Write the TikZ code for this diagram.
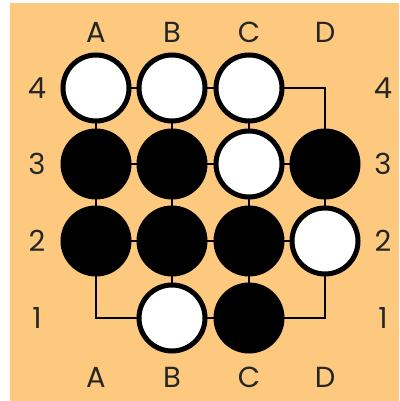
\documentclass[tikz,border=0pt]{standalone}
\usepackage{fontspec}
\setmainfont{Poppins}
\usepackage{tikz}
\definecolor{boardtan}{RGB}{253,201,127}
\tikzset{
  gridline/.style   = {black,line width=2.5pt},
  whitestone/.style = {circle,draw=black,fill=white,line width=5pt,minimum size=66pt,inner sep=0pt},
  blackstone/.style = {circle,draw=black,fill=black,line width=2pt,minimum size=69pt,inner sep=0pt},
  coordlabel/.style = {font=\fontsize{29}{32}\selectfont,text=black!85}
}
\begin{document}
\begin{tikzpicture}[x=1pt,y=1pt]
  % --- page and board
  \useasboundingbox (0,0) rectangle (399,401);
  \fill[white] (0,0) rectangle (399,401);
  \fill[boardtan] (10,0) rectangle (399,398);
  % --- intersections, columns A..D and rows 1..4
  \foreach \c/\x in {A/96,B/172,C/249,D/325} {
    \foreach \r/\y in {4/313,3/237,2/160,1/83} { \coordinate (\c\r) at (\x,\y); }
  }
  % --- grid lines
  \foreach \r in {1,...,4} { \draw[gridline,line cap=rect] (A\r) -- (D\r); }
  \foreach \c in {A,B,C,D} { \draw[gridline,line cap=rect] (\c1) -- (\c4); }
  % --- stones
  \foreach \p in {A4,B4,C4,C3,D2,B1} { \node[whitestone] (w\p) at (\p) {}; }
  \foreach \p in {A3,B3,D3,A2,B2,C2,C1} { \node[blackstone] (b\p) at (\p) {}; }
  % --- coordinates round the board
  \foreach \c/\x in {A/96,B/172,C/249,D/325} {
    \node[coordlabel] (top\c) at (\x,369) {\c};
    \node[coordlabel] (bot\c) at (\x,24) {\c};
  }
  \foreach \r/\y in {4/313,3/237,2/160,1/83} {
    \node[coordlabel] (left\r)  at (37,\y)  {\r};
    \node[coordlabel] (right\r) at (383,\y) {\r};
  }
\end{tikzpicture}
\end{document}
